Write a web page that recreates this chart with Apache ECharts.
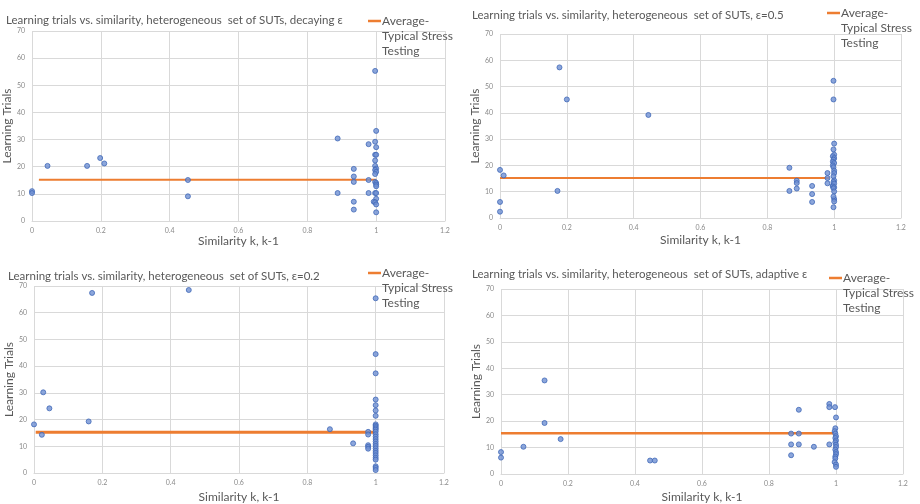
<!DOCTYPE html>
<html>
<head>
<meta charset="utf-8">
<script src="https://cdn.jsdelivr.net/npm/echarts@6/dist/echarts.min.js"></script>
<style>
  html, body { margin: 0; padding: 0; background: #fff; }
  #chart { width: 920px; height: 504px; }
</style>
</head>
<body>
<div id="chart"></div>
<script>
// panel titles
var titles = [
  'Learning trials vs. similarity, heterogeneous  set of SUTs, decaying \u03b5',
  'Learning trials vs. similarity, heterogeneous  set of SUTs, \u03b5=0.5',
  'Learning trials vs. similarity, heterogeneous  set of SUTs, \u03b5=0.2',
  'Learning trials vs. similarity, heterogeneous  set of SUTs, adaptive \u03b5'
]
var avgName = 'Average-\nTypical Stress\nTesting'

// decaying epsilon
var decayX = [0, 0, 0.045, 0.16, 0.198, 0.21, 0.453, 0.453, 0.888, 0.888,
  0.935, 0.935, 0.935, 0.935, 0.935, 0.978, 0.978, 0.978,
  0.997, 1, 0.997, 1, 0.997, 1, 0.997, 0.997, 1, 0.997, 1, 0.997,
  0.997, 1, 1, 1, 0.997, 1, 1, 0.993, 0.997, 1, 1]
var decayY = [11, 10.3, 20.3, 20.3, 23.2, 21.2, 15.1, 9.1, 30.4, 10.3,
  19.2, 16.4, 14.4, 7.1, 4.2, 28.3, 15.1, 10.3,
  55.3, 33.2, 29.2, 27.2, 24.4, 24.4, 22.3, 20.3, 19.3, 18.8, 18.1, 17.3,
  14.4, 14, 13.4, 12.8, 10.3, 10.3, 8.2, 7.1, 6.9, 6.1, 3.2]
var decayAvg = [[0.02, 15.2], [1, 15.2]]

// epsilon = 0.5
var eps05X = [0, 0, 0, 0.011, 0.172, 0.178, 0.2, 0.444,
  0.866, 0.866, 0.888, 0.888, 0.888, 0.934, 0.934, 0.934, 0.98, 0.98, 0.98,
  0.998, 0.998, 1, 0.998, 1, 0.996, 1, 0.998, 0.996, 1, 0.996, 0.998, 1, 1,
  0.998, 1, 0.996, 0.998, 1, 0.996, 1, 0.998, 1, 1, 0.998, 1, 0.998]
var eps05Y = [18.3, 6.1, 2.4, 16.2, 10.3, 57.3, 45.1, 39.2,
  19.1, 10.3, 14.2, 13.3, 11.2, 12.2, 9.1, 6.1, 17.1, 15.2, 13.2,
  52.2, 45.1, 28.3, 26.1, 24.1, 23.5, 22.8, 22.2, 21.4, 20.9, 20, 19.3, 18, 17.1,
  15.9, 14.3, 12.3, 13.7, 13.1, 12, 11.7, 11.3, 10.1, 7.2, 8.2, 6.3, 4.1]
var eps05Avg = [[0, 15.2], [0.985, 15.2]]

// epsilon = 0.2
var eps02X = [0, 0.023, 0.027, 0.045, 0.16, 0.17, 0.453,
  0.866, 0.934, 0.978, 0.978, 0.978, 0.978, 0.978,
  1, 1, 1, 1, 1, 1, 1, 1, 1, 1, 1, 1, 1, 1, 1, 1, 1, 1, 1, 1, 1, 1, 1, 1, 1, 1, 1, 1]
var eps02Y = [18.2, 14.3, 30.2, 24.2, 19.3, 67.4, 68.5,
  16.4, 11.1, 15.4, 14.4, 10.4, 9.8, 9.1,
  65.4, 44.5, 37.3, 27.5, 25.4, 23.4, 21.4, 18.2, 17.7, 17.2, 16.7, 16.2, 15.5, 14.5,
  13.6, 12.7, 11.8, 10.9, 10.1, 9.2, 8.3, 7.5, 6.6, 5.7, 5, 2.5, 1.9, 1.1]
var eps02Avg = [[0.005, 15.3], [1, 15.3]]

// adaptive epsilon
var adaptX = [0, 0, 0.067, 0.13, 0.13, 0.178, 0.445, 0.459,
  0.866, 0.866, 0.866, 0.889, 0.889, 0.889, 0.934, 0.98, 0.98, 0.98,
  0.997, 1, 0.998, 0.996, 0.998, 1, 0.998, 1, 0.998, 1, 1, 0.998, 1, 1, 0.998, 0.998, 0.996, 1, 1]
var adaptY = [8.3, 6.2, 10.3, 35.4, 19.3, 13.2, 5.1, 5.1,
  15.3, 11.2, 7.1, 24.3, 15.3, 11.2, 10.3, 26.5, 25.3, 11.2,
  25.3, 21.4, 17.3, 16.2, 15.3, 14.3, 13.6, 12.7, 12, 11.1, 10.2, 9.2, 8.3, 7.5, 6.6,
  5.9, 4.5, 3.6, 2.7]
var adaptAvg = [[0, 15.4], [0.995, 15.4]]

function pairs (xs, ys) {
  return xs.map(function (x, i) { return [x, ys[i]] })
}

var points = [pairs(decayX, decayY), pairs(eps05X, eps05Y), pairs(eps02X, eps02Y), pairs(adaptX, adaptY)]
var avgLines = [decayAvg, eps05Avg, eps02Avg, adaptAvg]
var avgWidth = [2, 2, 3, 2.5]

// plot rectangles
var grids = [
  { left: 32, top: 31, width: 413, height: 190 },
  { left: 500, top: 34, width: 401, height: 184 },
  { left: 34, top: 286, width: 410, height: 188 },
  { left: 501, top: 289, width: 402, height: 187 }
]
var titlePos = [[6, 14], [472, 9], [8, 270], [472, 268]]
// icon left, icon centre y
var legendPos = [[368, 21], [827, 13], [368, 273], [829, 278]]
var xNameGap = [14, 16, 18, 17]
var yNameGap = [15, 16, 15, 16]

var font = 'Lato, "Open Sans", sans-serif'
var gridColor = '#d9d9d9'

var myChart = echarts.init(document.getElementById('chart'))
var option = {
  backgroundColor: '#fff',
  animation: false,
  textStyle: { fontFamily: font },
  title: [],
  legend: [],
  grid: [],
  xAxis: [],
  yAxis: [],
  series: []
}

for (var i = 0; i < 4; i++) {
  option.title.push({
    text: titles[i],
    left: titlePos[i][0],
    top: titlePos[i][1],
    padding: 0,
    textStyle: { fontFamily: font, fontSize: 11.5, fontWeight: 'normal', color: '#595959' }
  })
  option.legend.push({
    data: [avgName],
    left: legendPos[i][0],
    top: legendPos[i][1] - 37.5,
    padding: 0,
    icon: 'rect',
    itemWidth: 13,
    itemHeight: 2.5,
    selectedMode: false,
    // two blank lines on top so the first line sits level with the icon
    formatter: function (name) { return '\n\n' + name },
    textStyle: { fontFamily: font, fontSize: 12, color: '#595959', lineHeight: 15, padding: [0, 0, 0, -4] }
  })
  option.grid.push(Object.assign({ containLabel: false }, grids[i]))
  option.xAxis.push({
    gridIndex: i,
    type: 'value',
    min: 0,
    max: 1.2,
    interval: 0.2,
    name: 'Similarity k, k-1',
    nameLocation: 'middle',
    nameGap: xNameGap[i],
    nameTextStyle: { fontFamily: font, fontSize: 12, color: '#595959' },
    axisLine: { show: true, lineStyle: { color: gridColor } },
    axisTick: { show: false },
    axisLabel: { fontSize: 7, color: '#8a8a8a', margin: 6 },
    splitLine: { show: true, lineStyle: { color: gridColor, width: 1 } }
  })
  option.yAxis.push({
    gridIndex: i,
    type: 'value',
    min: 0,
    max: 70,
    interval: 10,
    name: 'Learning Trials',
    nameLocation: 'middle',
    nameGap: yNameGap[i],
    nameTextStyle: { fontFamily: font, fontSize: 12, color: '#595959' },
    axisLine: { show: false },
    axisTick: { show: false },
    axisLabel: { fontSize: 7, color: '#8a8a8a', margin: 7 },
    splitLine: { show: true, lineStyle: { color: gridColor, width: 1 } }
  })
  option.series.push({
    name: 'Learning trials',
    type: 'scatter',
    xAxisIndex: i,
    yAxisIndex: i,
    symbol: 'circle',
    symbolSize: 5,
    itemStyle: { color: '#6f90d2', borderColor: '#4169b8', borderWidth: 1 },
    data: points[i]
  })
  option.series.push({
    name: avgName,
    type: 'line',
    xAxisIndex: i,
    yAxisIndex: i,
    symbol: 'none',
    z: 1,
    lineStyle: { color: '#ED7D31', width: avgWidth[i] },
    itemStyle: { color: '#ED7D31' },
    data: avgLines[i]
  })
}

myChart.setOption(option)
</script>
</body>
</html>
